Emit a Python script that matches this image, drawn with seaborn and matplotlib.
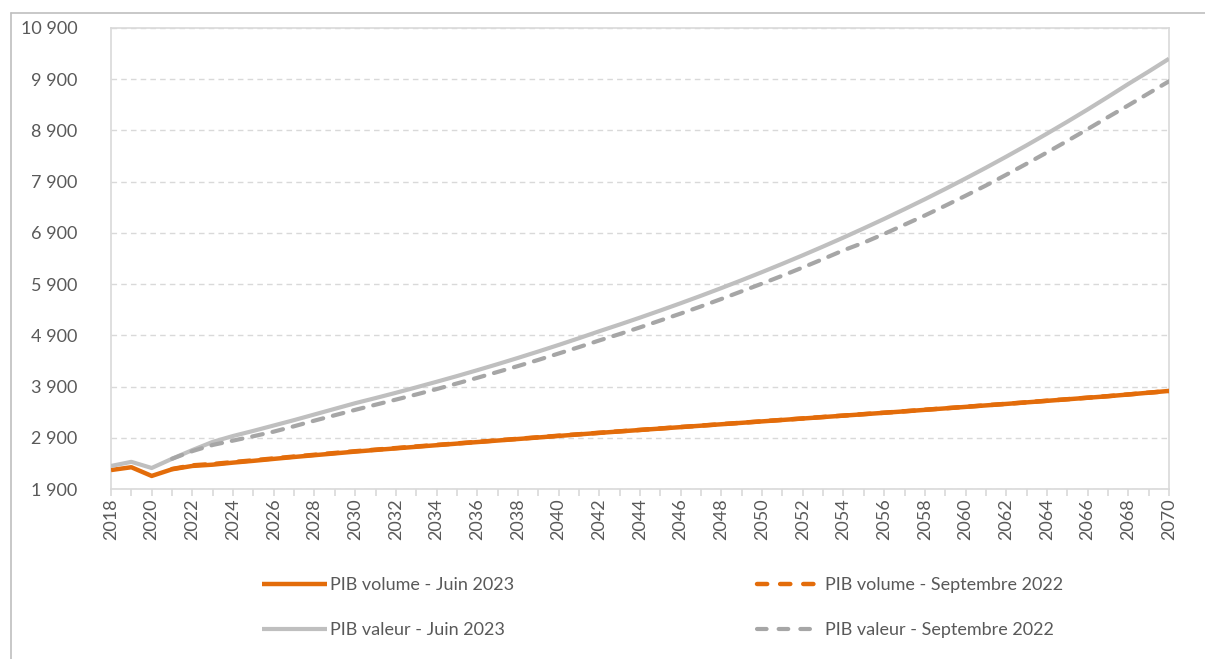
import matplotlib
matplotlib.use("Agg")
import matplotlib.pyplot as plt
import seaborn as sns
import pandas as pd
import numpy as np
from matplotlib.ticker import FuncFormatter, MultipleLocator, FixedLocator
from matplotlib.lines import Line2D

# ---------------- data ----------------
years = list(range(2018, 2071))
y_ticks = [1900, 2900, 3900, 4900, 5900, 6900, 7900, 8900, 9900, 10900]

vol_juin23 = [
    2270, 2325, 2155, 2285, 2350, 2375, 2415, 2450, 2488, 2525,
    2560, 2595, 2630, 2662, 2693, 2724, 2755, 2786, 2816, 2846,
    2876, 2906, 2936, 2966, 2995, 3024, 3052, 3080, 3108, 3136,
    3164, 3192, 3220, 3248, 3276, 3304, 3332, 3360, 3388, 3416,
    3445, 3474, 3503, 3532, 3561, 3591, 3621, 3651, 3681, 3711,
    3745, 3780, 3815,
]
vol_sept22 = [
    None, None, None, 2290, 2362, 2388, 2425, 2460, 2497, 2533,
    2568, 2603, 2637, 2668, 2699, 2730, 2760, 2790, 2820, 2850,
    2880, 2910, 2940, 2969, 2998, 3026, 3054, 3082, 3110, 3138,
    3166, 3194, 3222, 3250, 3278, 3306, 3334, 3362, 3390, 3418,
    3447, 3476, 3505, 3534, 3563, 3593, 3623, 3653, 3683, 3713,
    3746, 3780, 3812,
]
val_juin23 = [
    2350, 2430, 2310, 2490, 2660, 2820, 2935, 3035, 3140, 3245,
    3355, 3465, 3575, 3675, 3778, 3884, 3993, 4104, 4219, 4337,
    4459, 4584, 4712, 4844, 4980, 5111, 5246, 5385, 5527, 5673,
    5823, 5977, 6135, 6297, 6463, 6634, 6809, 6989, 7173, 7363,
    7557, 7757, 7962, 8172, 8388, 8609, 8837, 9070, 9309, 9555,
    9807, 10050, 10300,
]
val_sept22 = [
    None, None, None, 2490, 2640, 2760, 2845, 2930, 3020, 3125,
    3235, 3340, 3445, 3545, 3645, 3745, 3850, 3960, 4070, 4185,
    4300, 4420, 4545, 4670, 4800, 4925, 5055, 5190, 5325, 5465,
    5610, 5760, 5910, 6065, 6225, 6390, 6560, 6710, 6880, 7060,
    7240, 7430, 7625, 7825, 8035, 8250, 8470, 8695, 8925, 9160,
    9390, 9625, 9860,
]

labels = [
    "PIB volume - Juin 2023",
    "PIB volume - Septembre 2022",
    "PIB valeur - Juin 2023",
    "PIB valeur - Septembre 2022",
]
series = [vol_juin23, vol_sept22, val_juin23, val_sept22]

# ---------------- style ----------------
sns.set_theme(style="white")
plt.rcParams["font.family"] = ["Lato", "DejaVu Sans"]

ORANGE = "#E36C0A"
GRAY_SOLID = "#BFBFBF"
GRAY_DASH = "#A6A6A6"
AXIS_C = "#D9D9D9"
TEXT_C = "#595959"
FS = 13

dash = (0, (2.6, 2.4))
legend_dash = (0, (2.3, 2.9))
styles = [
    dict(color=ORANGE, lw=3.2, ls="-"),
    dict(color=ORANGE, lw=3.2, ls=dash),
    dict(color=GRAY_SOLID, lw=3.0, ls="-"),
    dict(color=GRAY_DASH, lw=3.0, ls=dash),
]

fig = plt.figure(figsize=(12.05, 6.59), dpi=100)
ax = fig.add_axes([111 / 1205, 1 - 489 / 659, (1169 - 111) / 1205, (489 - 28) / 659])

df = pd.DataFrame({"year": years})
for lab, vals in zip(labels, series):
    df[lab] = pd.array([np.nan if v is None else v for v in vals], dtype="float")

# draw: gray first so orange lines are on top
order = [2, 3, 0, 1]
for i in order:
    st = styles[i]
    sub = df[["year", labels[i]]].dropna()
    sns.lineplot(data=sub, x="year", y=labels[i], ax=ax, color=st["color"],
                 linewidth=st["lw"], linestyle=st["ls"], legend=False,
                 solid_capstyle="butt", dash_capstyle="round", zorder=3 + i)

ax.set_xlim(2018, 2070)
ax.set_ylim(1900, 10900)
ax.yaxis.set_major_locator(FixedLocator(y_ticks))
ax.yaxis.set_major_formatter(FuncFormatter(lambda v, p: f"{v:,.0f}".replace(",", " ")))
ax.xaxis.set_major_locator(MultipleLocator(2))
ax.xaxis.set_minor_locator(MultipleLocator(1))
ax.xaxis.set_major_formatter(FuncFormatter(lambda v, p: f"{int(round(v))}"))
ax.set_xlabel("")
ax.set_ylabel("")

ax.grid(axis="y", color=AXIS_C, linestyle=(0, (4, 3)), linewidth=1.0, zorder=0)
ax.grid(axis="x", visible=False)
for s in ax.spines.values():
    s.set_color(AXIS_C)
    s.set_linewidth(1.2)

ax.tick_params(axis="y", length=0, pad=24, labelsize=FS, labelcolor=TEXT_C)
ax.tick_params(axis="x", which="both", direction="out", length=5, width=1.2,
               color=AXIS_C, bottom=True, pad=1.5, labelsize=FS,
               labelcolor=TEXT_C, labelrotation=90)

# ---------------- legend ----------------
def handle(i):
    st = styles[i]
    ls = legend_dash if st["ls"] != "-" else "-"
    return Line2D([], [], color=st["color"], lw=st["lw"], ls=ls,
                  solid_capstyle="butt", dash_capstyle="round")

common = dict(frameon=False, fontsize=FS, labelcolor=TEXT_C, handlelength=3.6,
              handletextpad=0.15, labelspacing=1.6, borderpad=0, borderaxespad=0,
              loc="upper left")
leg1 = fig.legend([handle(0), handle(2)], [labels[0], labels[2]],
                  bbox_to_anchor=(262 / 1205, 1 - 577 / 659), **common)
leg2 = fig.legend([handle(1), handle(3)], [labels[1], labels[3]],
                  bbox_to_anchor=(757 / 1205, 1 - 577 / 659), **common)

# ---------------- outer frame (partially visible) ----------------
ytop = 1 - 12.5 / 659
xl = 10.5 / 1205
fig.add_artist(Line2D([xl, 1.0], [ytop, ytop], transform=fig.transFigure,
                      color="#BFBFBF", lw=1.2))
fig.add_artist(Line2D([xl, xl], [0, ytop], transform=fig.transFigure,
                      color="#BFBFBF", lw=1.2))

fig.savefig("out.png", dpi=100)
